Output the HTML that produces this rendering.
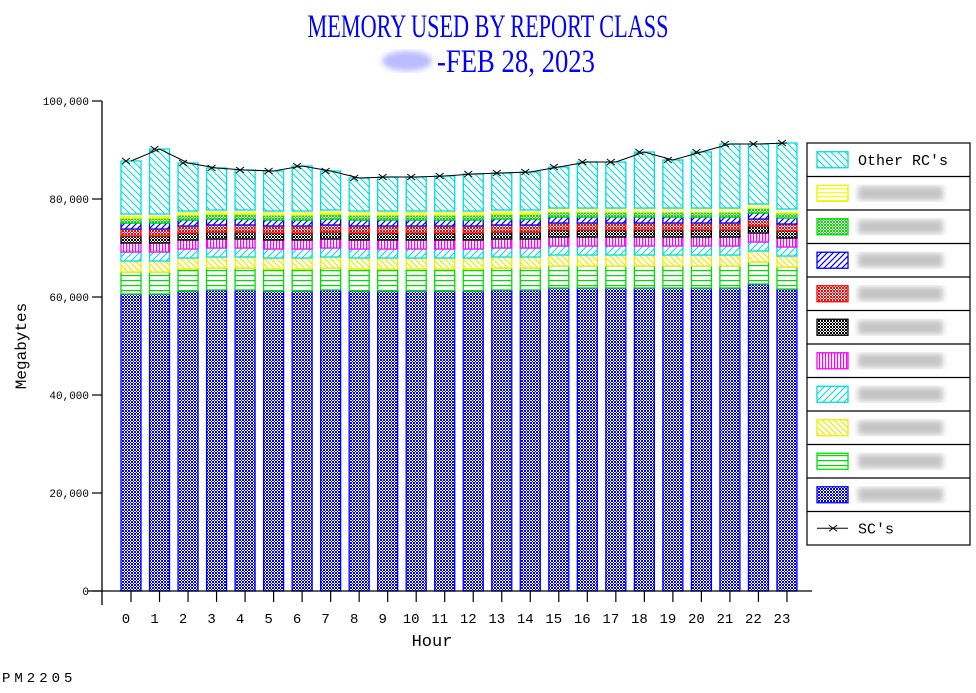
<!DOCTYPE html>
<html><head><meta charset="utf-8"><style>
html,body{margin:0;padding:0;background:#fff;width:976px;height:693px;overflow:hidden}
svg{display:block}
</style></head><body>
<svg id="s" width="976" height="693" xmlns="http://www.w3.org/2000/svg" font-family="Liberation Mono, monospace">
<defs>
<pattern id="pBlue" width="3" height="3" patternUnits="userSpaceOnUse"><rect width="3" height="3" fill="#fff"/><rect x="0" y="0" width="1" height="1" fill="#00f"/><rect x="2" y="0" width="1" height="1" fill="#00f"/><rect x="1" y="1" width="1" height="1" fill="#00f"/><rect x="0" y="2" width="1" height="1" fill="#00f"/><rect x="2" y="2" width="1" height="1" fill="#00f"/></pattern>
<pattern id="pBlack" width="3" height="3" patternUnits="userSpaceOnUse"><rect width="3" height="3" fill="#fff"/><rect x="0" y="0" width="1" height="1" fill="#000"/><rect x="2" y="0" width="1" height="1" fill="#000"/><rect x="1" y="1" width="1" height="1" fill="#000"/><rect x="0" y="2" width="1" height="1" fill="#000"/><rect x="2" y="2" width="1" height="1" fill="#000"/></pattern>
<pattern id="pRed" width="3" height="3" patternUnits="userSpaceOnUse"><rect width="3" height="3" fill="#fff"/><rect x="0" y="0" width="1" height="1" fill="#f00"/><rect x="2" y="0" width="1" height="1" fill="#f00"/><rect x="1" y="1" width="1" height="1" fill="#f00"/><rect x="0" y="2" width="1" height="1" fill="#f00"/><rect x="2" y="2" width="1" height="1" fill="#f00"/></pattern>
<pattern id="pGreenX" width="3" height="3" patternUnits="userSpaceOnUse"><rect width="3" height="3" fill="#fff"/><rect x="0" y="0" width="1" height="1" fill="#0d0"/><rect x="2" y="0" width="1" height="1" fill="#0d0"/><rect x="1" y="1" width="1" height="1" fill="#0d0"/><rect x="0" y="2" width="1" height="1" fill="#0d0"/><rect x="2" y="2" width="1" height="1" fill="#0d0"/></pattern>
<pattern id="pGreenH" width="6" height="5" patternUnits="userSpaceOnUse"><rect width="6" height="5" fill="#fff"/><rect y="0" width="6" height="1.2" fill="#0d0"/></pattern>
<pattern id="pYellowH" width="6" height="4" patternUnits="userSpaceOnUse"><rect width="6" height="4" fill="#fff"/><rect y="0" width="6" height="1.2" fill="#ff0"/></pattern>
<pattern id="pYellowD" width="6" height="6" patternUnits="userSpaceOnUse"><rect width="6" height="6" fill="#fff"/><path d="M0,0 L6,6 M-3,3 L3,9 M3,-3 L9,3" stroke="#ee0" stroke-width="1.2"/></pattern>
<pattern id="pCyanT" width="7" height="7" patternUnits="userSpaceOnUse"><rect width="7" height="7" fill="#fff"/><path d="M0,0 L7,7 M-3.5,3.5 L3.5,10.5 M3.5,-3.5 L10.5,3.5" stroke="#0dd" stroke-width="1.1"/></pattern>
<pattern id="pCyanS" width="7" height="7" patternUnits="userSpaceOnUse"><rect width="7" height="7" fill="#fff"/><path d="M0,7 L7,0 M-3.5,3.5 L3.5,-3.5 M3.5,10.5 L10.5,3.5" stroke="#0dd" stroke-width="1.1"/></pattern>
<pattern id="pBlueD" width="6" height="6" patternUnits="userSpaceOnUse"><rect width="6" height="6" fill="#fff"/><path d="M0,6 L6,0 M-3,3 L3,-3 M3,9 L9,3" stroke="#00f" stroke-width="1.2"/></pattern>
<pattern id="pMag" width="3" height="4" patternUnits="userSpaceOnUse"><rect width="3" height="4" fill="#fff"/><rect x="0" width="1.2" height="4" fill="#f0f"/></pattern>
<filter id="bl"><feGaussianBlur stdDeviation="3"/></filter>
</defs>
<text x="488" y="37" text-anchor="middle" font-family="Liberation Serif, serif" font-size="33" fill="#00f" textLength="361" lengthAdjust="spacingAndGlyphs">MEMORY USED BY REPORT CLASS</text>
<ellipse cx="407" cy="61" rx="25" ry="10" fill="#bbf" filter="url(#bl)"/>
<text x="437" y="72" font-family="Liberation Serif, serif" font-size="33" fill="#00f" textLength="158" lengthAdjust="spacingAndGlyphs">-FEB 28, 2023</text>
<g id="bars"></g>
<g stroke="#000" stroke-width="1.3" fill="none">
<line x1="102" y1="101" x2="102" y2="605"/>
<line x1="88" y1="591" x2="812" y2="591"/>
</g>
<g id="ax" font-size="14" fill="#000"></g>
<text x="26" y="346" font-size="16" transform="rotate(-90 26 346)" text-anchor="middle">Megabytes</text>
<text x="432" y="646" font-size="17" text-anchor="middle">Hour</text>
<text x="2" y="682" font-size="14" letter-spacing="4">PM2205</text>
<g id="leg"></g>
</svg>
<script>
var NS="http://www.w3.org/2000/svg";
function el(p,t,a,txt){var e=document.createElementNS(NS,t);for(var k in a)e.setAttribute(k,a[k]);if(txt!==undefined)e.textContent=txt;p.appendChild(e);return e;}
var bars=document.getElementById('bars'),ax=document.getElementById('ax'),leg=document.getElementById('leg');
var tops=[161,149,163,168,170,171,166,171,178,177,177,176,174,173,172,167,162,162,152,160,152,144,144,143];
var bt=[294,294,291,290,290,291,291,290,291,291,291,291,291,290,290,288,288,288,288,288,288,288,284,289];
var segs=[["pGreenH","#0d0",22],["pYellowD","#ee0",11],["pCyanS","#0dd",9],["pMag","#f0f",9],["pBlack","#000",7],["pRed","#f00",7],["pBlueD","#00f",6],["pGreenX","#0d0",5],["pYellowH","#ff0",4]];
var pts=[];
for(var i=0;i<24;i++){
  var cx=131+i*28.52,x=cx-10,w=20;
  el(bars,'rect',{x:x,y:bt[i],width:w,height:591-bt[i],fill:'url(#pBlue)',stroke:'#00f','stroke-width':1.3});
  var y=bt[i];
  segs.forEach(function(s){y-=s[2];el(bars,'rect',{x:x,y:y,width:w,height:s[2],fill:'url(#'+s[0]+')',stroke:s[1],'stroke-width':1.3});});
  el(bars,'rect',{x:x,y:tops[i],width:w,height:y-tops[i],fill:'url(#pCyanT)',stroke:'#0dd','stroke-width':1.3});
  pts.push(cx+','+tops[i]);
  el(ax,'line',{x1:cx,y1:591,x2:cx,y2:602,stroke:'#000','stroke-width':1.2});
  el(ax,'text',{x:cx-5,y:623,'text-anchor':'middle'},String(i));
}
el(bars,'polyline',{points:pts.join(' '),fill:'none',stroke:'#000','stroke-width':1});
pts.forEach(function(p){var a=p.split(',');var px=+a[0]-5,py=+a[1];
 el(bars,'path',{d:'M'+(px-4)+','+(py-3)+' L'+(px+4)+','+(py+3)+' M'+(px-4)+','+(py+3)+' L'+(px+4)+','+(py-3),stroke:'#000','stroke-width':1});});
var yl=["0","20,000","40,000","60,000","80,000","100,000"];
for(var k=0;k<6;k++){var yy=591-k*98;
 el(ax,'line',{x1:92,y1:yy,x2:102,y2:yy,stroke:'#000','stroke-width':1.2});
 el(ax,'text',{x:89,y:yy+4,'text-anchor':'end','font-size':11},yl[k]);}
var L=[["pCyanT","#0dd","Other RC's"],["pYellowH","#ee0",""],["pGreenX","#0d0",""],["pBlueD","#00f",""],["pRed","#f00",""],["pBlack","#000",""],["pMag","#f0f",""],["pCyanS","#0dd",""],["pYellowD","#ee0",""],["pGreenH","#0d0",""],["pBlue","#00f",""],["","","SC's"]];
var rh=33.5,ly=143;
el(leg,'rect',{x:807,y:ly,width:163,height:rh*12,fill:'#fff',stroke:'#000','stroke-width':1.2});
for(var j=0;j<12;j++){var ry=ly+j*rh;
 if(j>0)el(leg,'line',{x1:807,y1:ry,x2:970,y2:ry,stroke:'#000','stroke-width':1.2});
 var cy=ry+rh/2;
 if(L[j][0]){el(leg,'rect',{x:817,y:cy-8,width:31,height:16,fill:'url(#'+L[j][0]+')',stroke:L[j][1],'stroke-width':1.3});}
 else{el(leg,'line',{x1:817,y1:cy,x2:848,y2:cy,stroke:'#000'});el(leg,'path',{d:'M829,'+(cy-3)+' L837,'+(cy+3)+' M829,'+(cy+3)+' L837,'+(cy-3),stroke:'#000'});}
 if(L[j][2])el(leg,'text',{x:858,y:cy+5,'font-size':15},L[j][2]);
 else el(leg,'rect',{x:858,y:cy-7,width:85,height:14,fill:'#c4c4c4',filter:'url(#bl)'});
}
</script>
</body></html>
